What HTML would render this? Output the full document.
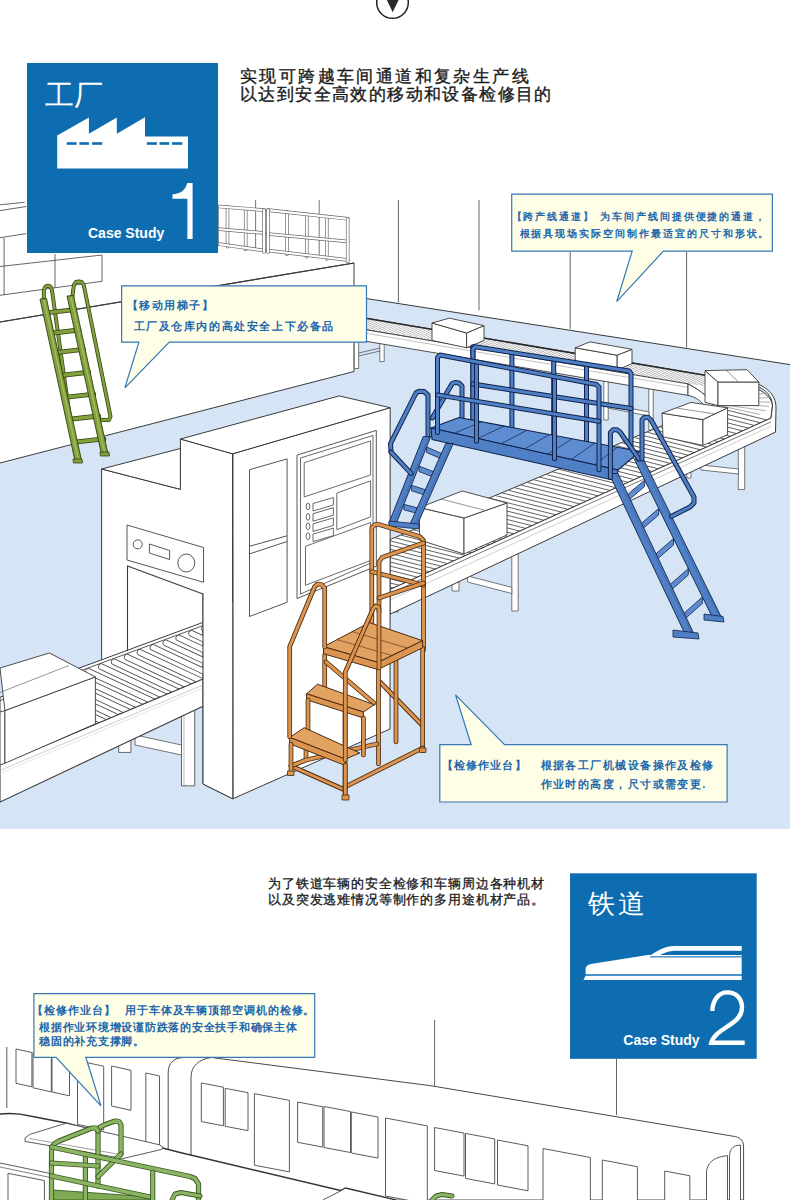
<!DOCTYPE html>
<html><head><meta charset="utf-8"><style>
html,body{margin:0;padding:0;background:#fff;width:790px;height:1200px;overflow:hidden}
svg{display:block}
text{font-family:"Liberation Sans", sans-serif}
</style></head><body>
<svg width="790" height="1200" viewBox="0 0 790 1200">
<polygon points="0,463 354,371.5 354,296.6 790,364.6 790,829 0,829" fill="#d6e5f5" stroke="none" stroke-width="1" stroke-linejoin="round" />
<line x1="354" y1="296.6" x2="790" y2="364.6" stroke="#3a3a3a" stroke-width="1" />
<line x1="398.4" y1="200" x2="398.4" y2="302.4" stroke="#555" stroke-width="0.9" />
<line x1="479" y1="200" x2="479" y2="310.5" stroke="#555" stroke-width="0.9" />
<line x1="570.2" y1="252" x2="570.2" y2="329" stroke="#555" stroke-width="0.9" />
<line x1="686.6" y1="252" x2="686.6" y2="347.5" stroke="#555" stroke-width="0.9" />
<polygon points="0,205 219,244 354,263 0,322" fill="#fff" stroke="none" stroke-width="1" stroke-linejoin="round" />
<polygon points="0,322 354,263 354,371.5 0,463" fill="#fff" stroke="none" stroke-width="1" stroke-linejoin="round" />
<polyline points="0,322 354,263 354,371.5 0,463" fill="none" stroke="#3a3a3a" stroke-width="1" stroke-linejoin="round" stroke-linecap="round" />
<line x1="0" y1="204.8" x2="24.7" y2="202.3" stroke="#555" stroke-width="0.9" />
<line x1="0" y1="210.6" x2="26.3" y2="206.5" stroke="#555" stroke-width="0.9" />
<line x1="0" y1="237.7" x2="26.3" y2="233.6" stroke="#555" stroke-width="0.9" />
<line x1="0" y1="266.5" x2="102" y2="255" stroke="#555" stroke-width="0.9" />
<line x1="0" y1="295.3" x2="102" y2="281.3" stroke="#555" stroke-width="0.9" />
<line x1="4.1" y1="238" x2="4.1" y2="295" stroke="#555" stroke-width="0.9" />
<line x1="55" y1="254" x2="55" y2="288" stroke="#555" stroke-width="0.9" />
<line x1="102" y1="255" x2="102" y2="281.3" stroke="#555" stroke-width="0.9" />
<line x1="255.6" y1="200" x2="255.6" y2="248" stroke="#666" stroke-width="0.9" />
<line x1="319.2" y1="200" x2="319.2" y2="257.7" stroke="#666" stroke-width="0.9" />
<polyline points="227.5,207.14893617021278 227.5,246.7968085106383" fill="none" stroke="#6a6a6a" stroke-width="3.6" stroke-linejoin="round" stroke-linecap="round"/>
<polyline points="227.5,207.14893617021278 227.5,246.7968085106383" fill="none" stroke="#fff" stroke-width="2.2" stroke-linejoin="round" stroke-linecap="round"/>
<polyline points="245.7,208.6204255319149 245.7,249.39127659574467" fill="none" stroke="#6a6a6a" stroke-width="3.6" stroke-linejoin="round" stroke-linecap="round"/>
<polyline points="245.7,208.6204255319149 245.7,249.39127659574467" fill="none" stroke="#fff" stroke-width="2.2" stroke-linejoin="round" stroke-linecap="round"/>
<polyline points="217,206.3 264,210.1" fill="none" stroke="#6a6a6a" stroke-width="3.6" stroke-linejoin="round" stroke-linecap="round"/>
<polyline points="217,206.3 264,210.1" fill="none" stroke="#fff" stroke-width="2.2" stroke-linejoin="round" stroke-linecap="round"/>
<polyline points="217,229 264,233" fill="none" stroke="#6a6a6a" stroke-width="3.6" stroke-linejoin="round" stroke-linecap="round"/>
<polyline points="217,229 264,233" fill="none" stroke="#fff" stroke-width="2.2" stroke-linejoin="round" stroke-linecap="round"/>
<polyline points="217,243.8 264,250.5" fill="none" stroke="#6a6a6a" stroke-width="3.6" stroke-linejoin="round" stroke-linecap="round"/>
<polyline points="217,243.8 264,250.5" fill="none" stroke="#fff" stroke-width="2.2" stroke-linejoin="round" stroke-linecap="round"/>
<polyline points="217,206.3 217,245.3" fill="none" stroke="#6a6a6a" stroke-width="3.6" stroke-linejoin="round" stroke-linecap="round"/>
<polyline points="217,206.3 217,245.3" fill="none" stroke="#fff" stroke-width="2.2" stroke-linejoin="round" stroke-linecap="round"/>
<polyline points="264,210.1 264,252" fill="none" stroke="#6a6a6a" stroke-width="3.6" stroke-linejoin="round" stroke-linecap="round"/>
<polyline points="264,210.1 264,252" fill="none" stroke="#fff" stroke-width="2.2" stroke-linejoin="round" stroke-linecap="round"/>
<polyline points="286.9,212.16311166875784 286.9,254.25282308657467" fill="none" stroke="#6a6a6a" stroke-width="3.6" stroke-linejoin="round" stroke-linecap="round"/>
<polyline points="286.9,212.16311166875784 286.9,254.25282308657467" fill="none" stroke="#fff" stroke-width="2.2" stroke-linejoin="round" stroke-linecap="round"/>
<polyline points="306.8,214.33538268506902 306.8,256.624843161857" fill="none" stroke="#6a6a6a" stroke-width="3.6" stroke-linejoin="round" stroke-linecap="round"/>
<polyline points="306.8,214.33538268506902 306.8,256.624843161857" fill="none" stroke="#fff" stroke-width="2.2" stroke-linejoin="round" stroke-linecap="round"/>
<polyline points="326.8,216.5185696361355 326.8,259.00878293601005" fill="none" stroke="#6a6a6a" stroke-width="3.6" stroke-linejoin="round" stroke-linecap="round"/>
<polyline points="326.8,216.5185696361355 326.8,259.00878293601005" fill="none" stroke="#fff" stroke-width="2.2" stroke-linejoin="round" stroke-linecap="round"/>
<polyline points="268,210.1 347.7,218.8" fill="none" stroke="#6a6a6a" stroke-width="3.6" stroke-linejoin="round" stroke-linecap="round"/>
<polyline points="268,210.1 347.7,218.8" fill="none" stroke="#fff" stroke-width="2.2" stroke-linejoin="round" stroke-linecap="round"/>
<polyline points="268,234 347.7,241.5" fill="none" stroke="#6a6a6a" stroke-width="3.6" stroke-linejoin="round" stroke-linecap="round"/>
<polyline points="268,234 347.7,241.5" fill="none" stroke="#fff" stroke-width="2.2" stroke-linejoin="round" stroke-linecap="round"/>
<polyline points="268,250.5 347.7,260.0" fill="none" stroke="#6a6a6a" stroke-width="3.6" stroke-linejoin="round" stroke-linecap="round"/>
<polyline points="268,250.5 347.7,260.0" fill="none" stroke="#fff" stroke-width="2.2" stroke-linejoin="round" stroke-linecap="round"/>
<polyline points="268,210.1 268,252" fill="none" stroke="#6a6a6a" stroke-width="3.6" stroke-linejoin="round" stroke-linecap="round"/>
<polyline points="268,210.1 268,252" fill="none" stroke="#fff" stroke-width="2.2" stroke-linejoin="round" stroke-linecap="round"/>
<polyline points="347.7,218.8 347.7,261.5" fill="none" stroke="#6a6a6a" stroke-width="3.6" stroke-linejoin="round" stroke-linecap="round"/>
<polyline points="347.7,218.8 347.7,261.5" fill="none" stroke="#fff" stroke-width="2.2" stroke-linejoin="round" stroke-linecap="round"/>
<line x1="0" y1="322" x2="354" y2="263" stroke="#3a3a3a" stroke-width="1.1" />
<polygon points="354.3,334.67 358.7,334.67 358.7,368.5 354.3,368.5" fill="#fff" stroke="#555" stroke-width="0.8" stroke-linejoin="round" />
<polygon points="379.8,338.95 384.2,338.95 384.2,361.6 379.8,361.6" fill="#fff" stroke="#555" stroke-width="0.8" stroke-linejoin="round" />
<polygon points="648.8,384.15 653.2,384.15 653.2,430 648.8,430" fill="#fff" stroke="#555" stroke-width="0.8" stroke-linejoin="round" />
<polygon points="603.8,376.59 608.2,376.59 608.2,420 603.8,420" fill="#fff" stroke="#555" stroke-width="0.8" stroke-linejoin="round" />
<line x1="358.7" y1="356" x2="380" y2="351" stroke="#555" stroke-width="0.8" />
<line x1="358.7" y1="353" x2="380" y2="348" stroke="#555" stroke-width="0.8" />
<polygon points="608,404 649,412 649,416 608,408" fill="#fff" stroke="#555" stroke-width="0.8" stroke-linejoin="round" />
<path d="M354,316.2 L705,375.2 C740,379.2 772,390 772.5,406 L771,418.1 L390,589.5 L390,539.6 L712.5,404.5 C709,398 703,392 688,383.9 L354,327.7 Z" fill="#fff" stroke="#3a3a3a" stroke-width="1"/>
<clipPath id="bcclip"><path d="M354,316.9 L705,375.9 L705,386.4 L354,327.4 Z"/></clipPath><g clip-path="url(#bcclip)">
<line x1="358.0" y1="316.9" x2="340.0" y2="325.4" stroke="#a8a8a8" stroke-width="2.4"/>
<line x1="358.0" y1="316.9" x2="340.0" y2="325.4" stroke="#fff" stroke-width="1.1"/>
<line x1="364.0" y1="317.9" x2="346.0" y2="326.4" stroke="#a8a8a8" stroke-width="2.4"/>
<line x1="364.0" y1="317.9" x2="346.0" y2="326.4" stroke="#fff" stroke-width="1.1"/>
<line x1="370.0" y1="318.9" x2="352.0" y2="327.4" stroke="#a8a8a8" stroke-width="2.4"/>
<line x1="370.0" y1="318.9" x2="352.0" y2="327.4" stroke="#fff" stroke-width="1.1"/>
<line x1="376.0" y1="319.9" x2="358.0" y2="328.4" stroke="#a8a8a8" stroke-width="2.4"/>
<line x1="376.0" y1="319.9" x2="358.0" y2="328.4" stroke="#fff" stroke-width="1.1"/>
<line x1="382.0" y1="321.0" x2="364.0" y2="329.4" stroke="#a8a8a8" stroke-width="2.4"/>
<line x1="382.0" y1="321.0" x2="364.0" y2="329.4" stroke="#fff" stroke-width="1.1"/>
<line x1="388.0" y1="322.0" x2="370.0" y2="330.4" stroke="#a8a8a8" stroke-width="2.4"/>
<line x1="388.0" y1="322.0" x2="370.0" y2="330.4" stroke="#fff" stroke-width="1.1"/>
<line x1="394.0" y1="323.0" x2="376.0" y2="331.4" stroke="#a8a8a8" stroke-width="2.4"/>
<line x1="394.0" y1="323.0" x2="376.0" y2="331.4" stroke="#fff" stroke-width="1.1"/>
<line x1="400.0" y1="324.0" x2="382.0" y2="332.5" stroke="#a8a8a8" stroke-width="2.4"/>
<line x1="400.0" y1="324.0" x2="382.0" y2="332.5" stroke="#fff" stroke-width="1.1"/>
<line x1="406.0" y1="325.0" x2="388.0" y2="333.5" stroke="#a8a8a8" stroke-width="2.4"/>
<line x1="406.0" y1="325.0" x2="388.0" y2="333.5" stroke="#fff" stroke-width="1.1"/>
<line x1="412.0" y1="326.0" x2="394.0" y2="334.5" stroke="#a8a8a8" stroke-width="2.4"/>
<line x1="412.0" y1="326.0" x2="394.0" y2="334.5" stroke="#fff" stroke-width="1.1"/>
<line x1="418.0" y1="327.0" x2="400.0" y2="335.5" stroke="#a8a8a8" stroke-width="2.4"/>
<line x1="418.0" y1="327.0" x2="400.0" y2="335.5" stroke="#fff" stroke-width="1.1"/>
<line x1="424.0" y1="328.0" x2="406.0" y2="336.5" stroke="#a8a8a8" stroke-width="2.4"/>
<line x1="424.0" y1="328.0" x2="406.0" y2="336.5" stroke="#fff" stroke-width="1.1"/>
<line x1="430.0" y1="329.0" x2="412.0" y2="337.5" stroke="#a8a8a8" stroke-width="2.4"/>
<line x1="430.0" y1="329.0" x2="412.0" y2="337.5" stroke="#fff" stroke-width="1.1"/>
<line x1="436.0" y1="330.0" x2="418.0" y2="338.5" stroke="#a8a8a8" stroke-width="2.4"/>
<line x1="436.0" y1="330.0" x2="418.0" y2="338.5" stroke="#fff" stroke-width="1.1"/>
<line x1="442.0" y1="331.0" x2="424.0" y2="339.5" stroke="#a8a8a8" stroke-width="2.4"/>
<line x1="442.0" y1="331.0" x2="424.0" y2="339.5" stroke="#fff" stroke-width="1.1"/>
<line x1="448.0" y1="332.0" x2="430.0" y2="340.5" stroke="#a8a8a8" stroke-width="2.4"/>
<line x1="448.0" y1="332.0" x2="430.0" y2="340.5" stroke="#fff" stroke-width="1.1"/>
<line x1="454.0" y1="333.0" x2="436.0" y2="341.5" stroke="#a8a8a8" stroke-width="2.4"/>
<line x1="454.0" y1="333.0" x2="436.0" y2="341.5" stroke="#fff" stroke-width="1.1"/>
<line x1="460.0" y1="334.1" x2="442.0" y2="342.5" stroke="#a8a8a8" stroke-width="2.4"/>
<line x1="460.0" y1="334.1" x2="442.0" y2="342.5" stroke="#fff" stroke-width="1.1"/>
<line x1="466.0" y1="335.1" x2="448.0" y2="343.5" stroke="#a8a8a8" stroke-width="2.4"/>
<line x1="466.0" y1="335.1" x2="448.0" y2="343.5" stroke="#fff" stroke-width="1.1"/>
<line x1="472.0" y1="336.1" x2="454.0" y2="344.5" stroke="#a8a8a8" stroke-width="2.4"/>
<line x1="472.0" y1="336.1" x2="454.0" y2="344.5" stroke="#fff" stroke-width="1.1"/>
<line x1="478.0" y1="337.1" x2="460.0" y2="345.6" stroke="#a8a8a8" stroke-width="2.4"/>
<line x1="478.0" y1="337.1" x2="460.0" y2="345.6" stroke="#fff" stroke-width="1.1"/>
<line x1="484.0" y1="338.1" x2="466.0" y2="346.6" stroke="#a8a8a8" stroke-width="2.4"/>
<line x1="484.0" y1="338.1" x2="466.0" y2="346.6" stroke="#fff" stroke-width="1.1"/>
<line x1="490.0" y1="339.1" x2="472.0" y2="347.6" stroke="#a8a8a8" stroke-width="2.4"/>
<line x1="490.0" y1="339.1" x2="472.0" y2="347.6" stroke="#fff" stroke-width="1.1"/>
<line x1="496.0" y1="340.1" x2="478.0" y2="348.6" stroke="#a8a8a8" stroke-width="2.4"/>
<line x1="496.0" y1="340.1" x2="478.0" y2="348.6" stroke="#fff" stroke-width="1.1"/>
<line x1="502.0" y1="341.1" x2="484.0" y2="349.6" stroke="#a8a8a8" stroke-width="2.4"/>
<line x1="502.0" y1="341.1" x2="484.0" y2="349.6" stroke="#fff" stroke-width="1.1"/>
<line x1="508.0" y1="342.1" x2="490.0" y2="350.6" stroke="#a8a8a8" stroke-width="2.4"/>
<line x1="508.0" y1="342.1" x2="490.0" y2="350.6" stroke="#fff" stroke-width="1.1"/>
<line x1="514.0" y1="343.1" x2="496.0" y2="351.6" stroke="#a8a8a8" stroke-width="2.4"/>
<line x1="514.0" y1="343.1" x2="496.0" y2="351.6" stroke="#fff" stroke-width="1.1"/>
<line x1="520.0" y1="344.1" x2="502.0" y2="352.6" stroke="#a8a8a8" stroke-width="2.4"/>
<line x1="520.0" y1="344.1" x2="502.0" y2="352.6" stroke="#fff" stroke-width="1.1"/>
<line x1="526.0" y1="345.1" x2="508.0" y2="353.6" stroke="#a8a8a8" stroke-width="2.4"/>
<line x1="526.0" y1="345.1" x2="508.0" y2="353.6" stroke="#fff" stroke-width="1.1"/>
<line x1="532.0" y1="346.2" x2="514.0" y2="354.6" stroke="#a8a8a8" stroke-width="2.4"/>
<line x1="532.0" y1="346.2" x2="514.0" y2="354.6" stroke="#fff" stroke-width="1.1"/>
<line x1="538.0" y1="347.2" x2="520.0" y2="355.6" stroke="#a8a8a8" stroke-width="2.4"/>
<line x1="538.0" y1="347.2" x2="520.0" y2="355.6" stroke="#fff" stroke-width="1.1"/>
<line x1="544.0" y1="348.2" x2="526.0" y2="356.6" stroke="#a8a8a8" stroke-width="2.4"/>
<line x1="544.0" y1="348.2" x2="526.0" y2="356.6" stroke="#fff" stroke-width="1.1"/>
<line x1="550.0" y1="349.2" x2="532.0" y2="357.7" stroke="#a8a8a8" stroke-width="2.4"/>
<line x1="550.0" y1="349.2" x2="532.0" y2="357.7" stroke="#fff" stroke-width="1.1"/>
<line x1="556.0" y1="350.2" x2="538.0" y2="358.7" stroke="#a8a8a8" stroke-width="2.4"/>
<line x1="556.0" y1="350.2" x2="538.0" y2="358.7" stroke="#fff" stroke-width="1.1"/>
<line x1="562.0" y1="351.2" x2="544.0" y2="359.7" stroke="#a8a8a8" stroke-width="2.4"/>
<line x1="562.0" y1="351.2" x2="544.0" y2="359.7" stroke="#fff" stroke-width="1.1"/>
<line x1="568.0" y1="352.2" x2="550.0" y2="360.7" stroke="#a8a8a8" stroke-width="2.4"/>
<line x1="568.0" y1="352.2" x2="550.0" y2="360.7" stroke="#fff" stroke-width="1.1"/>
<line x1="574.0" y1="353.2" x2="556.0" y2="361.7" stroke="#a8a8a8" stroke-width="2.4"/>
<line x1="574.0" y1="353.2" x2="556.0" y2="361.7" stroke="#fff" stroke-width="1.1"/>
<line x1="580.0" y1="354.2" x2="562.0" y2="362.7" stroke="#a8a8a8" stroke-width="2.4"/>
<line x1="580.0" y1="354.2" x2="562.0" y2="362.7" stroke="#fff" stroke-width="1.1"/>
<line x1="586.0" y1="355.2" x2="568.0" y2="363.7" stroke="#a8a8a8" stroke-width="2.4"/>
<line x1="586.0" y1="355.2" x2="568.0" y2="363.7" stroke="#fff" stroke-width="1.1"/>
<line x1="592.0" y1="356.2" x2="574.0" y2="364.7" stroke="#a8a8a8" stroke-width="2.4"/>
<line x1="592.0" y1="356.2" x2="574.0" y2="364.7" stroke="#fff" stroke-width="1.1"/>
<line x1="598.0" y1="357.2" x2="580.0" y2="365.7" stroke="#a8a8a8" stroke-width="2.4"/>
<line x1="598.0" y1="357.2" x2="580.0" y2="365.7" stroke="#fff" stroke-width="1.1"/>
<line x1="604.0" y1="358.2" x2="586.0" y2="366.7" stroke="#a8a8a8" stroke-width="2.4"/>
<line x1="604.0" y1="358.2" x2="586.0" y2="366.7" stroke="#fff" stroke-width="1.1"/>
<line x1="610.0" y1="359.3" x2="592.0" y2="367.7" stroke="#a8a8a8" stroke-width="2.4"/>
<line x1="610.0" y1="359.3" x2="592.0" y2="367.7" stroke="#fff" stroke-width="1.1"/>
<line x1="616.0" y1="360.3" x2="598.0" y2="368.7" stroke="#a8a8a8" stroke-width="2.4"/>
<line x1="616.0" y1="360.3" x2="598.0" y2="368.7" stroke="#fff" stroke-width="1.1"/>
<line x1="622.0" y1="361.3" x2="604.0" y2="369.7" stroke="#a8a8a8" stroke-width="2.4"/>
<line x1="622.0" y1="361.3" x2="604.0" y2="369.7" stroke="#fff" stroke-width="1.1"/>
<line x1="628.0" y1="362.3" x2="610.0" y2="370.8" stroke="#a8a8a8" stroke-width="2.4"/>
<line x1="628.0" y1="362.3" x2="610.0" y2="370.8" stroke="#fff" stroke-width="1.1"/>
<line x1="634.0" y1="363.3" x2="616.0" y2="371.8" stroke="#a8a8a8" stroke-width="2.4"/>
<line x1="634.0" y1="363.3" x2="616.0" y2="371.8" stroke="#fff" stroke-width="1.1"/>
<line x1="640.0" y1="364.3" x2="622.0" y2="372.8" stroke="#a8a8a8" stroke-width="2.4"/>
<line x1="640.0" y1="364.3" x2="622.0" y2="372.8" stroke="#fff" stroke-width="1.1"/>
<line x1="646.0" y1="365.3" x2="628.0" y2="373.8" stroke="#a8a8a8" stroke-width="2.4"/>
<line x1="646.0" y1="365.3" x2="628.0" y2="373.8" stroke="#fff" stroke-width="1.1"/>
<line x1="652.0" y1="366.3" x2="634.0" y2="374.8" stroke="#a8a8a8" stroke-width="2.4"/>
<line x1="652.0" y1="366.3" x2="634.0" y2="374.8" stroke="#fff" stroke-width="1.1"/>
<line x1="658.0" y1="367.3" x2="640.0" y2="375.8" stroke="#a8a8a8" stroke-width="2.4"/>
<line x1="658.0" y1="367.3" x2="640.0" y2="375.8" stroke="#fff" stroke-width="1.1"/>
<line x1="664.0" y1="368.3" x2="646.0" y2="376.8" stroke="#a8a8a8" stroke-width="2.4"/>
<line x1="664.0" y1="368.3" x2="646.0" y2="376.8" stroke="#fff" stroke-width="1.1"/>
<line x1="670.0" y1="369.3" x2="652.0" y2="377.8" stroke="#a8a8a8" stroke-width="2.4"/>
<line x1="670.0" y1="369.3" x2="652.0" y2="377.8" stroke="#fff" stroke-width="1.1"/>
<line x1="676.0" y1="370.3" x2="658.0" y2="378.8" stroke="#a8a8a8" stroke-width="2.4"/>
<line x1="676.0" y1="370.3" x2="658.0" y2="378.8" stroke="#fff" stroke-width="1.1"/>
<line x1="682.0" y1="371.4" x2="664.0" y2="379.8" stroke="#a8a8a8" stroke-width="2.4"/>
<line x1="682.0" y1="371.4" x2="664.0" y2="379.8" stroke="#fff" stroke-width="1.1"/>
<line x1="688.0" y1="372.4" x2="670.0" y2="380.8" stroke="#a8a8a8" stroke-width="2.4"/>
<line x1="688.0" y1="372.4" x2="670.0" y2="380.8" stroke="#fff" stroke-width="1.1"/>
<line x1="694.0" y1="373.4" x2="676.0" y2="381.8" stroke="#a8a8a8" stroke-width="2.4"/>
<line x1="694.0" y1="373.4" x2="676.0" y2="381.8" stroke="#fff" stroke-width="1.1"/>
<line x1="700.0" y1="374.4" x2="682.0" y2="382.9" stroke="#a8a8a8" stroke-width="2.4"/>
<line x1="700.0" y1="374.4" x2="682.0" y2="382.9" stroke="#fff" stroke-width="1.1"/>
<line x1="706.0" y1="375.4" x2="688.0" y2="383.9" stroke="#a8a8a8" stroke-width="2.4"/>
<line x1="706.0" y1="375.4" x2="688.0" y2="383.9" stroke="#fff" stroke-width="1.1"/>
<line x1="712.0" y1="376.4" x2="694.0" y2="384.9" stroke="#a8a8a8" stroke-width="2.4"/>
<line x1="712.0" y1="376.4" x2="694.0" y2="384.9" stroke="#fff" stroke-width="1.1"/>
<line x1="718.0" y1="377.4" x2="700.0" y2="385.9" stroke="#a8a8a8" stroke-width="2.4"/>
<line x1="718.0" y1="377.4" x2="700.0" y2="385.9" stroke="#fff" stroke-width="1.1"/>
<line x1="724.0" y1="378.4" x2="706.0" y2="386.9" stroke="#a8a8a8" stroke-width="2.4"/>
<line x1="724.0" y1="378.4" x2="706.0" y2="386.9" stroke="#fff" stroke-width="1.1"/>
</g>
<line x1="354" y1="316.2496" x2="705" y2="375.21759999999995" stroke="#2a2a2a" stroke-width="1.6" />
<clipPath id="lfsclip"><path d="M390,540.3 L712.5,405.2 L771,418.1 L390,589.5 Z"/></clipPath><g clip-path="url(#lfsclip)">
<line x1="300.0" y1="577.3" x2="375.3" y2="596.1" stroke="#5a5a5a" stroke-width="0.95"/>
<line x1="306.3" y1="574.7" x2="381.4" y2="593.4" stroke="#5a5a5a" stroke-width="0.95"/>
<line x1="312.6" y1="572.0" x2="387.4" y2="590.7" stroke="#5a5a5a" stroke-width="0.95"/>
<line x1="318.9" y1="569.4" x2="393.4" y2="588.0" stroke="#5a5a5a" stroke-width="0.95"/>
<line x1="325.2" y1="566.8" x2="399.4" y2="585.3" stroke="#5a5a5a" stroke-width="0.95"/>
<line x1="331.5" y1="564.1" x2="405.4" y2="582.6" stroke="#5a5a5a" stroke-width="0.95"/>
<line x1="337.8" y1="561.5" x2="411.5" y2="579.9" stroke="#5a5a5a" stroke-width="0.95"/>
<line x1="344.1" y1="558.8" x2="417.5" y2="577.2" stroke="#5a5a5a" stroke-width="0.95"/>
<line x1="350.4" y1="556.2" x2="423.5" y2="574.5" stroke="#5a5a5a" stroke-width="0.95"/>
<line x1="356.7" y1="553.6" x2="429.5" y2="571.8" stroke="#5a5a5a" stroke-width="0.95"/>
<line x1="363.0" y1="550.9" x2="435.6" y2="569.1" stroke="#5a5a5a" stroke-width="0.95"/>
<line x1="369.3" y1="548.3" x2="441.6" y2="566.3" stroke="#5a5a5a" stroke-width="0.95"/>
<line x1="375.6" y1="545.6" x2="447.6" y2="563.6" stroke="#5a5a5a" stroke-width="0.95"/>
<line x1="381.9" y1="543.0" x2="453.6" y2="560.9" stroke="#5a5a5a" stroke-width="0.95"/>
<line x1="388.2" y1="540.4" x2="459.6" y2="558.2" stroke="#5a5a5a" stroke-width="0.95"/>
<line x1="394.5" y1="537.7" x2="465.7" y2="555.5" stroke="#5a5a5a" stroke-width="0.95"/>
<line x1="400.8" y1="535.1" x2="471.7" y2="552.8" stroke="#5a5a5a" stroke-width="0.95"/>
<line x1="407.1" y1="532.4" x2="477.7" y2="550.1" stroke="#5a5a5a" stroke-width="0.95"/>
<line x1="413.4" y1="529.8" x2="483.7" y2="547.4" stroke="#5a5a5a" stroke-width="0.95"/>
<line x1="419.7" y1="527.2" x2="489.8" y2="544.7" stroke="#5a5a5a" stroke-width="0.95"/>
<line x1="426.0" y1="524.5" x2="495.8" y2="542.0" stroke="#5a5a5a" stroke-width="0.95"/>
<line x1="432.3" y1="521.9" x2="501.8" y2="539.3" stroke="#5a5a5a" stroke-width="0.95"/>
<line x1="438.6" y1="519.2" x2="507.8" y2="536.5" stroke="#5a5a5a" stroke-width="0.95"/>
<line x1="444.9" y1="516.6" x2="513.8" y2="533.8" stroke="#5a5a5a" stroke-width="0.95"/>
<line x1="451.2" y1="514.0" x2="519.9" y2="531.1" stroke="#5a5a5a" stroke-width="0.95"/>
<line x1="457.5" y1="511.3" x2="525.9" y2="528.4" stroke="#5a5a5a" stroke-width="0.95"/>
<line x1="463.8" y1="508.7" x2="531.9" y2="525.7" stroke="#5a5a5a" stroke-width="0.95"/>
<line x1="470.1" y1="506.0" x2="537.9" y2="523.0" stroke="#5a5a5a" stroke-width="0.95"/>
<line x1="476.4" y1="503.4" x2="544.0" y2="520.3" stroke="#5a5a5a" stroke-width="0.95"/>
<line x1="482.7" y1="500.8" x2="550.0" y2="517.6" stroke="#5a5a5a" stroke-width="0.95"/>
<line x1="489.0" y1="498.1" x2="556.0" y2="514.9" stroke="#5a5a5a" stroke-width="0.95"/>
<line x1="495.3" y1="495.5" x2="562.0" y2="512.2" stroke="#5a5a5a" stroke-width="0.95"/>
<line x1="501.6" y1="492.8" x2="568.0" y2="509.4" stroke="#5a5a5a" stroke-width="0.95"/>
<line x1="507.9" y1="490.2" x2="574.1" y2="506.7" stroke="#5a5a5a" stroke-width="0.95"/>
<line x1="514.2" y1="487.6" x2="580.1" y2="504.0" stroke="#5a5a5a" stroke-width="0.95"/>
<line x1="520.5" y1="484.9" x2="586.1" y2="501.3" stroke="#5a5a5a" stroke-width="0.95"/>
<line x1="526.8" y1="482.3" x2="592.1" y2="498.6" stroke="#5a5a5a" stroke-width="0.95"/>
<line x1="533.1" y1="479.6" x2="598.1" y2="495.9" stroke="#5a5a5a" stroke-width="0.95"/>
<line x1="539.4" y1="477.0" x2="604.2" y2="493.2" stroke="#5a5a5a" stroke-width="0.95"/>
<line x1="545.7" y1="474.4" x2="610.2" y2="490.5" stroke="#5a5a5a" stroke-width="0.95"/>
<line x1="552.0" y1="471.7" x2="616.2" y2="487.8" stroke="#5a5a5a" stroke-width="0.95"/>
<line x1="558.3" y1="469.1" x2="622.2" y2="485.1" stroke="#5a5a5a" stroke-width="0.95"/>
<line x1="564.6" y1="466.4" x2="628.3" y2="482.4" stroke="#5a5a5a" stroke-width="0.95"/>
<line x1="570.9" y1="463.8" x2="634.3" y2="479.6" stroke="#5a5a5a" stroke-width="0.95"/>
<line x1="577.2" y1="461.2" x2="640.3" y2="476.9" stroke="#5a5a5a" stroke-width="0.95"/>
<line x1="583.5" y1="458.5" x2="646.3" y2="474.2" stroke="#5a5a5a" stroke-width="0.95"/>
<line x1="589.8" y1="455.9" x2="652.3" y2="471.5" stroke="#5a5a5a" stroke-width="0.95"/>
<line x1="596.1" y1="453.2" x2="658.4" y2="468.8" stroke="#5a5a5a" stroke-width="0.95"/>
<line x1="602.4" y1="450.6" x2="664.4" y2="466.1" stroke="#5a5a5a" stroke-width="0.95"/>
<line x1="608.7" y1="448.0" x2="670.4" y2="463.4" stroke="#5a5a5a" stroke-width="0.95"/>
<line x1="615.0" y1="445.3" x2="676.4" y2="460.7" stroke="#5a5a5a" stroke-width="0.95"/>
<line x1="621.3" y1="442.7" x2="682.5" y2="458.0" stroke="#5a5a5a" stroke-width="0.95"/>
<line x1="627.6" y1="440.0" x2="688.5" y2="455.3" stroke="#5a5a5a" stroke-width="0.95"/>
<line x1="633.9" y1="437.4" x2="694.5" y2="452.6" stroke="#5a5a5a" stroke-width="0.95"/>
<line x1="640.2" y1="434.8" x2="700.5" y2="449.8" stroke="#5a5a5a" stroke-width="0.95"/>
<line x1="646.5" y1="432.1" x2="706.5" y2="447.1" stroke="#5a5a5a" stroke-width="0.95"/>
<line x1="652.8" y1="429.5" x2="712.6" y2="444.4" stroke="#5a5a5a" stroke-width="0.95"/>
<line x1="659.1" y1="426.8" x2="718.6" y2="441.7" stroke="#5a5a5a" stroke-width="0.95"/>
<line x1="665.4" y1="424.2" x2="724.6" y2="439.0" stroke="#5a5a5a" stroke-width="0.95"/>
<line x1="671.7" y1="421.6" x2="730.6" y2="436.3" stroke="#5a5a5a" stroke-width="0.95"/>
<line x1="678.0" y1="418.9" x2="736.7" y2="433.6" stroke="#5a5a5a" stroke-width="0.95"/>
<line x1="684.3" y1="416.3" x2="742.7" y2="430.9" stroke="#5a5a5a" stroke-width="0.95"/>
<line x1="690.6" y1="413.6" x2="748.7" y2="428.2" stroke="#5a5a5a" stroke-width="0.95"/>
<line x1="696.9" y1="411.0" x2="754.7" y2="425.5" stroke="#5a5a5a" stroke-width="0.95"/>
<line x1="703.2" y1="408.4" x2="760.7" y2="422.8" stroke="#5a5a5a" stroke-width="0.95"/>
<line x1="709.5" y1="405.7" x2="766.8" y2="420.0" stroke="#5a5a5a" stroke-width="0.95"/>
<line x1="715.8" y1="403.1" x2="772.8" y2="417.3" stroke="#5a5a5a" stroke-width="0.95"/>
<line x1="722.1" y1="400.5" x2="778.8" y2="414.6" stroke="#5a5a5a" stroke-width="0.95"/>
<line x1="728.4" y1="397.8" x2="784.8" y2="411.9" stroke="#5a5a5a" stroke-width="0.95"/>
<line x1="734.7" y1="395.2" x2="790.8" y2="409.2" stroke="#5a5a5a" stroke-width="0.95"/>
<line x1="741.0" y1="392.5" x2="796.9" y2="406.5" stroke="#5a5a5a" stroke-width="0.95"/>
<line x1="747.3" y1="389.9" x2="802.9" y2="403.8" stroke="#5a5a5a" stroke-width="0.95"/>
<line x1="753.6" y1="387.3" x2="808.9" y2="401.1" stroke="#5a5a5a" stroke-width="0.95"/>
<line x1="759.9" y1="384.6" x2="814.9" y2="398.4" stroke="#5a5a5a" stroke-width="0.95"/>
<line x1="766.2" y1="382.0" x2="821.0" y2="395.7" stroke="#5a5a5a" stroke-width="0.95"/>
</g>
<line x1="714.9" y1="396.4" x2="733.0" y2="381.5" stroke="#8a8a8a" stroke-width="0.7" />
<line x1="716.3" y1="397.0" x2="743.3" y2="383.5" stroke="#8a8a8a" stroke-width="0.7" />
<line x1="717.6" y1="397.7" x2="752.4" y2="386.2" stroke="#8a8a8a" stroke-width="0.7" />
<line x1="718.6" y1="398.6" x2="759.9" y2="389.6" stroke="#8a8a8a" stroke-width="0.7" />
<line x1="719.4" y1="399.7" x2="765.4" y2="393.4" stroke="#8a8a8a" stroke-width="0.7" />
<line x1="719.8" y1="400.8" x2="768.8" y2="397.6" stroke="#8a8a8a" stroke-width="0.7" />
<line x1="720.0" y1="402.0" x2="770.0" y2="402.0" stroke="#8a8a8a" stroke-width="0.7" />
<line x1="719.8" y1="403.2" x2="768.8" y2="406.4" stroke="#8a8a8a" stroke-width="0.7" />
<line x1="719.4" y1="404.3" x2="765.4" y2="410.6" stroke="#8a8a8a" stroke-width="0.7" />
<line x1="718.6" y1="405.4" x2="759.9" y2="414.4" stroke="#8a8a8a" stroke-width="0.7" />
<polygon points="354,327.75 688,383.86 688,395.36 354,339.25" fill="#fff" stroke="#3a3a3a" stroke-width="0.9" stroke-linejoin="round" />
<line x1="354" y1="331.2496" x2="688" y2="387.36159999999995" stroke="#999" stroke-width="0.6" />
<path d="M688,383.9 C703,392 709,398 712.5,404.5 L712.5,413.5 C706,408 700,397.4 688,395.4 Z" fill="#fff" stroke="#3a3a3a" stroke-width="0.9"/>
<polygon points="738.3,446.18 744.7,446.18 744.7,489.6 738.3,489.6" fill="#fff" stroke="#555" stroke-width="0.8" stroke-linejoin="round" />
<polygon points="511.8,553.16 518.2,553.16 518.2,611 511.8,611" fill="#fff" stroke="#555" stroke-width="0.8" stroke-linejoin="round" />
<polygon points="391.8,609.83 398.2,609.83 398.2,612 391.8,612" fill="#fff" stroke="#555" stroke-width="0.8" stroke-linejoin="round" />
<polygon points="701,465 738.5,469 738.5,474 701,470" fill="#fff" stroke="#555" stroke-width="0.8" stroke-linejoin="round" />
<polygon points="686.8,472 691,472 691,478 686.8,478" fill="#fff" stroke="#555" stroke-width="0.8" stroke-linejoin="round" />
<polygon points="467.6,576 511.8,587.3 511.8,593.5 467.6,582" fill="#fff" stroke="#555" stroke-width="0.8" stroke-linejoin="round" />
<polygon points="452,583 459,582 459,591 452,591" fill="#fff" stroke="#555" stroke-width="0.8" stroke-linejoin="round" />
<path d="M390,589.5 L771,418.1 L772.5,406 C772,392 760,386 745,382 L750,381 C766,386 776,394 776,408 L775.5,432.1 L390,614.2 Z" fill="#fff" stroke="#3a3a3a" stroke-width="1"/>
<line x1="390" y1="593.3489999999999" x2="771" y2="421.9371" stroke="#555" stroke-width="0.8" />
<line x1="390" y1="600.049" x2="771" y2="426.1371" stroke="#b0b0b0" stroke-width="0.6" />
<polygon points="432,323 466.6,333 466.6,347.8 432,340.4" fill="#fff" stroke="#3a3a3a" stroke-width="0.9" stroke-linejoin="round" />
<polygon points="466.6,333 484,325.6 484,340.4 466.6,347.8" fill="#fff" stroke="#3a3a3a" stroke-width="0.9" stroke-linejoin="round" />
<polygon points="432,323 449.4,318.2 484,325.6 466.6,333" fill="#fff" stroke="#3a3a3a" stroke-width="0.9" stroke-linejoin="round" />
<polygon points="575.2,347.8 617.2,355.2 617.2,370 575.2,362.6" fill="#fff" stroke="#3a3a3a" stroke-width="0.9" stroke-linejoin="round" />
<polygon points="617.2,355.2 632,349.3 632,363.6 617.2,370" fill="#fff" stroke="#3a3a3a" stroke-width="0.9" stroke-linejoin="round" />
<polygon points="575.2,347.8 590,341.9 632,349.3 617.2,355.2" fill="#fff" stroke="#3a3a3a" stroke-width="0.9" stroke-linejoin="round" />
<polygon points="705,370.6 718,382 718,405.6 705,402.4" fill="#fff" stroke="#3a3a3a" stroke-width="0.9" stroke-linejoin="round" />
<polygon points="718,382 758.8,382 758.8,405.6 718,405.6" fill="#fff" stroke="#3a3a3a" stroke-width="0.9" stroke-linejoin="round" />
<polygon points="705,370.6 747,369.7 758.8,382 718,382" fill="#fff" stroke="#3a3a3a" stroke-width="0.9" stroke-linejoin="round" />
<line x1="726" y1="370" x2="738.5" y2="382" stroke="#666" stroke-width="0.7" />
<polygon points="662,413.2 702.9,419.6 702.9,445.4 663,436.8" fill="#fff" stroke="#3a3a3a" stroke-width="0.9" stroke-linejoin="round" />
<polygon points="702.9,419.6 727.6,407.8 727.6,434.7 702.9,445.4" fill="#fff" stroke="#3a3a3a" stroke-width="0.9" stroke-linejoin="round" />
<polygon points="662,413.2 691,402.4 727.6,407.8 702.9,419.6" fill="#fff" stroke="#3a3a3a" stroke-width="0.9" stroke-linejoin="round" />
<line x1="676.5" y1="408" x2="715" y2="414" stroke="#666" stroke-width="0.7" />
<polygon points="419.5,507.5 464,518 464,554 419.5,540" fill="#fff" stroke="#3a3a3a" stroke-width="0.9" stroke-linejoin="round" />
<polygon points="464,518 507,503 507,535 464,554" fill="#fff" stroke="#3a3a3a" stroke-width="0.9" stroke-linejoin="round" />
<polygon points="419.5,507.5 462.3,491 507,503 464,518" fill="#fff" stroke="#3a3a3a" stroke-width="0.9" stroke-linejoin="round" />
<line x1="441" y1="499" x2="485.5" y2="510.5" stroke="#666" stroke-width="0.7" />
<polygon points="232.6,453.8 390.2,407.7 390,729 232.8,798.8" fill="#fff" stroke="#3a3a3a" stroke-width="1" stroke-linejoin="round" />
<polygon points="101.6,469 180.4,489.3 180.4,439 232.6,453.8 232.8,798.8 203,784 203,700 101.6,700" fill="#fff" stroke="#3a3a3a" stroke-width="1" stroke-linejoin="round" />
<polygon points="180.4,439 339.2,395.9 390.2,407.7 232.6,453.8" fill="#fff" stroke="#3a3a3a" stroke-width="1" stroke-linejoin="round" />
<polygon points="101.6,469 180.4,448.5 180.4,489.3" fill="#fff" stroke="#3a3a3a" stroke-width="1" stroke-linejoin="round" />
<polygon points="127.5,565.9 203,594 203,690 127.5,690" fill="#fff" stroke="#3a3a3a" stroke-width="1.1" stroke-linejoin="round" />
<polygon points="127,525 203.5,547.5 203.5,582.3 127,560" fill="#fff" stroke="#444" stroke-width="0.9" stroke-linejoin="round" />
<circle cx="137.7" cy="544.3" r="4.5" fill="#fff" stroke="#444" stroke-width="0.9"/>
<polygon points="149.4,544 169.6,550.5 169.6,559.5 149.4,553" fill="#fff" stroke="#444" stroke-width="0.9" stroke-linejoin="round" />
<ellipse cx="186.3" cy="563" rx="8.5" ry="9" fill="#fff" stroke="#444" stroke-width="0.9"/>
<polygon points="249.5,469.7 287.1,458.9 287.1,602.3 249.5,616.5" fill="#fff" stroke="#444" stroke-width="0.9" stroke-linejoin="round" />
<line x1="249.5" y1="546.3" x2="287.1" y2="535.8" stroke="#444" stroke-width="0.9" />
<line x1="249.5" y1="553.9" x2="287.1" y2="541.5" stroke="#444" stroke-width="0.9" />
<polygon points="297,455.1 376.3,430.4 376.3,566.2 297,598.5" fill="#fff" stroke="#444" stroke-width="0.9" stroke-linejoin="round" />
<polygon points="300.5,458 373,435.5 373,562 300.5,594" fill="#fff" stroke="#444" stroke-width="0.8" stroke-linejoin="round" />
<polygon points="304.2,462.7 370.6,440.9 370.6,475 304.2,496.9" fill="#fff" stroke="#444" stroke-width="0.8" stroke-linejoin="round" />
<polygon points="336.8,493.1 370.6,480.8 370.6,516.8 336.8,529.7" fill="#fff" stroke="#444" stroke-width="0.8" stroke-linejoin="round" />
<polygon points="305.5,546.3 370.6,522.5 370.6,560.5 305.5,585.2" fill="#fff" stroke="#444" stroke-width="0.8" stroke-linejoin="round" />
<ellipse cx="308" cy="506.4" rx="1.9" ry="3.4" fill="#fff" stroke="#444" stroke-width="0.8"/>
<polygon points="313,503.5 333.4,497.5 333.4,505.0 313,511.0" fill="#fff" stroke="#444" stroke-width="0.8" stroke-linejoin="round" />
<ellipse cx="308" cy="516.8" rx="1.9" ry="3.4" fill="#fff" stroke="#444" stroke-width="0.8"/>
<polygon points="313,513.7 333.4,507.7 333.4,515.2 313,521.2" fill="#fff" stroke="#444" stroke-width="0.8" stroke-linejoin="round" />
<ellipse cx="308" cy="526.3" rx="1.9" ry="3.4" fill="#fff" stroke="#444" stroke-width="0.8"/>
<polygon points="313,523.9 333.4,517.9 333.4,525.4 313,531.4" fill="#fff" stroke="#444" stroke-width="0.8" stroke-linejoin="round" />
<ellipse cx="308" cy="536.2" rx="1.9" ry="3.4" fill="#fff" stroke="#444" stroke-width="0.8"/>
<polygon points="313,534.1 333.4,528.1 333.4,535.6 313,541.6" fill="#fff" stroke="#444" stroke-width="0.8" stroke-linejoin="round" />
<polygon points="181.5,713.35 194.7,707.12 194.7,785.8 181.5,785.8" fill="#fff" stroke="#555" stroke-width="0.9" stroke-linejoin="round" />
<line x1="184" y1="701" x2="184" y2="785" stroke="#888" stroke-width="0.6" />
<polygon points="118.7,735 130.9,733 130.9,752.4 118.7,752.4" fill="#fff" stroke="#555" stroke-width="0.9" stroke-linejoin="round" />
<polygon points="135,735 181.5,745 181.5,755 135,745" fill="#fff" stroke="#555" stroke-width="0.8" stroke-linejoin="round" />
<polygon points="0,697.3 203,622.39 203,679.0 0,764.46" fill="#fff" stroke="#3a3a3a" stroke-width="1" stroke-linejoin="round" />
<clipPath id="ncclip"><polygon points="0,600 203,600 203,800 0,800"/></clipPath><g clip-path="url(#ncclip)">
<line x1="0" y1="700.4997" x2="203" y2="625.5927" stroke="#444" stroke-width="0.9" />
<line x1="24.0" y1="695.2" x2="94.6" y2="728.2" stroke="#444" stroke-width="6.6" stroke-linecap="round"/>
<line x1="24.0" y1="695.2" x2="94.6" y2="728.2" stroke="#fff" stroke-width="5.0" stroke-linecap="round"/>
<line x1="36.9" y1="690.5" x2="106.8" y2="723.1" stroke="#444" stroke-width="6.6" stroke-linecap="round"/>
<line x1="36.9" y1="690.5" x2="106.8" y2="723.1" stroke="#fff" stroke-width="5.0" stroke-linecap="round"/>
<line x1="49.8" y1="685.7" x2="118.9" y2="718.0" stroke="#444" stroke-width="6.6" stroke-linecap="round"/>
<line x1="49.8" y1="685.7" x2="118.9" y2="718.0" stroke="#fff" stroke-width="5.0" stroke-linecap="round"/>
<line x1="62.7" y1="681.0" x2="131.1" y2="712.9" stroke="#444" stroke-width="6.6" stroke-linecap="round"/>
<line x1="62.7" y1="681.0" x2="131.1" y2="712.9" stroke="#fff" stroke-width="5.0" stroke-linecap="round"/>
<line x1="75.6" y1="676.2" x2="143.2" y2="707.7" stroke="#444" stroke-width="6.6" stroke-linecap="round"/>
<line x1="75.6" y1="676.2" x2="143.2" y2="707.7" stroke="#fff" stroke-width="5.0" stroke-linecap="round"/>
<line x1="88.5" y1="671.4" x2="155.4" y2="702.6" stroke="#444" stroke-width="6.6" stroke-linecap="round"/>
<line x1="88.5" y1="671.4" x2="155.4" y2="702.6" stroke="#fff" stroke-width="5.0" stroke-linecap="round"/>
<line x1="101.4" y1="666.7" x2="167.5" y2="697.5" stroke="#444" stroke-width="6.6" stroke-linecap="round"/>
<line x1="101.4" y1="666.7" x2="167.5" y2="697.5" stroke="#fff" stroke-width="5.0" stroke-linecap="round"/>
<line x1="114.3" y1="661.9" x2="179.6" y2="692.4" stroke="#444" stroke-width="6.6" stroke-linecap="round"/>
<line x1="114.3" y1="661.9" x2="179.6" y2="692.4" stroke="#fff" stroke-width="5.0" stroke-linecap="round"/>
<line x1="127.2" y1="657.2" x2="191.8" y2="687.3" stroke="#444" stroke-width="6.6" stroke-linecap="round"/>
<line x1="127.2" y1="657.2" x2="191.8" y2="687.3" stroke="#fff" stroke-width="5.0" stroke-linecap="round"/>
<line x1="140.1" y1="652.4" x2="203.9" y2="682.2" stroke="#444" stroke-width="6.6" stroke-linecap="round"/>
<line x1="140.1" y1="652.4" x2="203.9" y2="682.2" stroke="#fff" stroke-width="5.0" stroke-linecap="round"/>
<line x1="153.0" y1="647.6" x2="216.1" y2="677.1" stroke="#444" stroke-width="6.6" stroke-linecap="round"/>
<line x1="153.0" y1="647.6" x2="216.1" y2="677.1" stroke="#fff" stroke-width="5.0" stroke-linecap="round"/>
<line x1="165.9" y1="642.9" x2="228.2" y2="672.0" stroke="#444" stroke-width="6.6" stroke-linecap="round"/>
<line x1="165.9" y1="642.9" x2="228.2" y2="672.0" stroke="#fff" stroke-width="5.0" stroke-linecap="round"/>
<line x1="178.8" y1="638.1" x2="240.4" y2="666.8" stroke="#444" stroke-width="6.6" stroke-linecap="round"/>
<line x1="178.8" y1="638.1" x2="240.4" y2="666.8" stroke="#fff" stroke-width="5.0" stroke-linecap="round"/>
<line x1="191.7" y1="633.4" x2="252.5" y2="661.7" stroke="#444" stroke-width="6.6" stroke-linecap="round"/>
<line x1="191.7" y1="633.4" x2="252.5" y2="661.7" stroke="#fff" stroke-width="5.0" stroke-linecap="round"/>
<line x1="204.6" y1="628.6" x2="264.7" y2="656.6" stroke="#444" stroke-width="6.6" stroke-linecap="round"/>
<line x1="204.6" y1="628.6" x2="264.7" y2="656.6" stroke="#fff" stroke-width="5.0" stroke-linecap="round"/>
<line x1="217.5" y1="623.8" x2="276.8" y2="651.5" stroke="#444" stroke-width="6.6" stroke-linecap="round"/>
<line x1="217.5" y1="623.8" x2="276.8" y2="651.5" stroke="#fff" stroke-width="5.0" stroke-linecap="round"/>
</g>
<polygon points="0,764.46 203,679.0 203,706.2 0,802.02" fill="#fff" stroke="#3a3a3a" stroke-width="1.1" stroke-linejoin="round" />
<line x1="0" y1="770.46" x2="203" y2="684.9970000000001" stroke="#aaa" stroke-width="0.6" />
<line x1="0" y1="773.46" x2="203" y2="687.9970000000001" stroke="#ccc" stroke-width="0.5" />
<polygon points="203,594 232.6,602 232.8,798.8 203,784" fill="#fff" stroke="none" stroke-width="1" stroke-linejoin="round" />
<polyline points="203,594 203,784 232.8,798.8 232.8,453.8" fill="none" stroke="#3a3a3a" stroke-width="1" stroke-linejoin="round" stroke-linecap="round" />
<polygon points="0,712 4.9,710.6 4.9,763.3 0,765" fill="#fff" stroke="#3a3a3a" stroke-width="0.9" stroke-linejoin="round" />
<polygon points="4.9,710.6 95.4,676.9 95.4,723.8 4.9,763.3" fill="#fff" stroke="#3a3a3a" stroke-width="0.9" stroke-linejoin="round" />
<polygon points="0,668 49.4,653 95.4,676.9 4.9,710.6" fill="#fff" stroke="#3a3a3a" stroke-width="0.9" stroke-linejoin="round" />
<line x1="0" y1="692.5" x2="69.1" y2="665.4" stroke="#666" stroke-width="0.7" />
<polyline points="472.9,346.7 472.9,420.1132" fill="none" stroke="#10224a" stroke-width="5.0" stroke-linejoin="round" stroke-linecap="round"/>
<polyline points="472.9,346.7 472.9,420.1132" fill="none" stroke="#4f7fc5" stroke-width="3.0" stroke-linejoin="round" stroke-linecap="round"/>
<polyline points="511.9,352.745 511.9,427.4452" fill="none" stroke="#10224a" stroke-width="5.0" stroke-linejoin="round" stroke-linecap="round"/>
<polyline points="511.9,352.745 511.9,427.4452" fill="none" stroke="#4f7fc5" stroke-width="3.0" stroke-linejoin="round" stroke-linecap="round"/>
<polyline points="553.7,359.224 553.7,435.3036" fill="none" stroke="#10224a" stroke-width="5.0" stroke-linejoin="round" stroke-linecap="round"/>
<polyline points="553.7,359.224 553.7,435.3036" fill="none" stroke="#4f7fc5" stroke-width="3.0" stroke-linejoin="round" stroke-linecap="round"/>
<polyline points="586.5,364.308 586.5,441.47" fill="none" stroke="#10224a" stroke-width="5.0" stroke-linejoin="round" stroke-linecap="round"/>
<polyline points="586.5,364.308 586.5,441.47" fill="none" stroke="#4f7fc5" stroke-width="3.0" stroke-linejoin="round" stroke-linecap="round"/>
<polyline points="472.9,420.1132 472.9,349 475,346.7 629,371 631,373.5 631,449.836" fill="none" stroke="#10224a" stroke-width="5.0" stroke-linejoin="round" stroke-linecap="round"/>
<polyline points="472.9,420.1132 472.9,349 475,346.7 629,371 631,373.5 631,449.836" fill="none" stroke="#4f7fc5" stroke-width="3.0" stroke-linejoin="round" stroke-linecap="round"/>
<polyline points="472.9,384 631,408.5" fill="none" stroke="#10224a" stroke-width="5.0" stroke-linejoin="round" stroke-linecap="round"/>
<polyline points="472.9,384 631,408.5" fill="none" stroke="#4f7fc5" stroke-width="3.0" stroke-linejoin="round" stroke-linecap="round"/>
<polyline points="432.3,418 452.2,383.5 455,382.5 459,383 462,386 462,416.7" fill="none" stroke="#10224a" stroke-width="5.0" stroke-linejoin="round" stroke-linecap="round"/>
<polyline points="432.3,418 452.2,383.5 455,382.5 459,383 462,386 462,416.7" fill="none" stroke="#4f7fc5" stroke-width="3.0" stroke-linejoin="round" stroke-linecap="round"/>
<polygon points="431,428 459,417.5 640,451.5 618,470" fill="#5d8dd0" stroke="#10224a" stroke-width="1.1" stroke-linejoin="round" />
<line x1="481.6" y1="421.8" x2="454.4" y2="433.2" stroke="#10224a" stroke-width="0.7" />
<line x1="504.2" y1="426.0" x2="477.8" y2="438.5" stroke="#10224a" stroke-width="0.7" />
<line x1="526.9" y1="430.2" x2="501.1" y2="443.8" stroke="#10224a" stroke-width="0.7" />
<line x1="549.5" y1="434.5" x2="524.5" y2="449.0" stroke="#10224a" stroke-width="0.7" />
<line x1="572.1" y1="438.8" x2="547.9" y2="454.2" stroke="#10224a" stroke-width="0.7" />
<line x1="594.8" y1="443.0" x2="571.2" y2="459.5" stroke="#10224a" stroke-width="0.7" />
<line x1="617.4" y1="447.2" x2="594.6" y2="464.8" stroke="#10224a" stroke-width="0.7" />
<polygon points="431,428 618,470 617,481 432,439.5" fill="#4f7fc5" stroke="#10224a" stroke-width="1.1" stroke-linejoin="round" />
<polyline points="476.5,362.254 476.5,441.2375" fill="none" stroke="#10224a" stroke-width="5.0" stroke-linejoin="round" stroke-linecap="round"/>
<polyline points="476.5,362.254 476.5,441.2375" fill="none" stroke="#4f7fc5" stroke-width="3.0" stroke-linejoin="round" stroke-linecap="round"/>
<polyline points="554.5,376.762 554.5,458.7875" fill="none" stroke="#10224a" stroke-width="5.0" stroke-linejoin="round" stroke-linecap="round"/>
<polyline points="554.5,376.762 554.5,458.7875" fill="none" stroke="#4f7fc5" stroke-width="3.0" stroke-linejoin="round" stroke-linecap="round"/>
<polyline points="437.5,432.4625 437.5,357.5 440,355 596.5,384.5 599,387 599,469.8" fill="none" stroke="#10224a" stroke-width="5.0" stroke-linejoin="round" stroke-linecap="round"/>
<polyline points="437.5,432.4625 437.5,357.5 440,355 596.5,384.5 599,387 599,469.8" fill="none" stroke="#4f7fc5" stroke-width="3.0" stroke-linejoin="round" stroke-linecap="round"/>
<polyline points="437.5,394.9 599,421.3" fill="none" stroke="#10224a" stroke-width="5.0" stroke-linejoin="round" stroke-linecap="round"/>
<polyline points="437.5,394.9 599,421.3" fill="none" stroke="#4f7fc5" stroke-width="3.0" stroke-linejoin="round" stroke-linecap="round"/>
<polygon points="426.61,446.94 441.37,453.4 441.37,458.9 426.61,452.44" fill="#5d8dd0" stroke="#10224a" stroke-width="0.8" stroke-linejoin="round" />
<polygon points="419.02,466.08 433.34,471.55 433.34,477.05 419.02,471.58" fill="#5d8dd0" stroke="#10224a" stroke-width="0.8" stroke-linejoin="round" />
<polygon points="411.43,485.22 425.31,489.7 425.31,495.2 411.43,490.72" fill="#5d8dd0" stroke="#10224a" stroke-width="0.8" stroke-linejoin="round" />
<polygon points="403.84,504.36 417.28,507.85 417.28,513.35 403.84,509.86" fill="#5d8dd0" stroke="#10224a" stroke-width="0.8" stroke-linejoin="round" />
<polygon points="423.25,436.5 430.75,436.5 396.25,523.5 388.75,523.5" fill="#4f7fc5" stroke="#10224a" stroke-width="0.9" stroke-linejoin="round" />
<line x1="428.55" y1="437.5" x2="394.05" y2="522.5" stroke="#3a64a8" stroke-width="0.7" />
<polygon points="445.75,443.5 453.25,443.5 416.75,526 409.25,526" fill="#4f7fc5" stroke="#10224a" stroke-width="0.9" stroke-linejoin="round" />
<line x1="451.05" y1="444.5" x2="414.55" y2="525" stroke="#3a64a8" stroke-width="0.7" />
<polygon points="389,521 419,524 419,529 389,526" fill="#4f7fc5" stroke="#10224a" stroke-width="0.8" stroke-linejoin="round" />
<polyline points="391,452 390.5,443.7 416,393 419,391.3 424,391.5 428,395 428,435" fill="none" stroke="#10224a" stroke-width="5.0" stroke-linejoin="round" stroke-linecap="round"/>
<polyline points="391,452 390.5,443.7 416,393 419,391.3 424,391.5 428,395 428,435" fill="none" stroke="#4f7fc5" stroke-width="3.0" stroke-linejoin="round" stroke-linecap="round"/>
<polyline points="391,452 411,473.4" fill="none" stroke="#10224a" stroke-width="5.0" stroke-linejoin="round" stroke-linecap="round"/>
<polyline points="391,452 411,473.4" fill="none" stroke="#4f7fc5" stroke-width="3.0" stroke-linejoin="round" stroke-linecap="round"/>
<polygon points="627.88,494.37 644.64,480.04 644.64,486.54 627.88,500.87" fill="#5d8dd0" stroke="#10224a" stroke-width="0.8" stroke-linejoin="round" />
<polygon points="641.56,523.25 658.68,508.48 658.68,514.98 641.56,529.75" fill="#5d8dd0" stroke="#10224a" stroke-width="0.8" stroke-linejoin="round" />
<polygon points="656.0,553.75 673.5,538.5 673.5,545.0 656.0,560.25" fill="#5d8dd0" stroke="#10224a" stroke-width="0.8" stroke-linejoin="round" />
<polygon points="670.44,584.25 688.32,568.52 688.32,575.02 670.44,590.75" fill="#5d8dd0" stroke="#10224a" stroke-width="0.8" stroke-linejoin="round" />
<polygon points="684.12,613.13 702.36,596.96 702.36,603.46 684.12,619.63" fill="#5d8dd0" stroke="#10224a" stroke-width="0.8" stroke-linejoin="round" />
<polygon points="609.0,473.5 618.0,473.5 694.0,634 685.0,634" fill="#4f7fc5" stroke="#10224a" stroke-width="0.9" stroke-linejoin="round" />
<line x1="615.8" y1="474.5" x2="691.8" y2="633" stroke="#3a64a8" stroke-width="0.7" />
<polygon points="634.5,459.5 643.5,459.5 721.5,617.5 712.5,617.5" fill="#4f7fc5" stroke="#10224a" stroke-width="0.9" stroke-linejoin="round" />
<line x1="641.3" y1="460.5" x2="719.3" y2="616.5" stroke="#3a64a8" stroke-width="0.7" />
<polygon points="673,630 698,633 699,639 673,637" fill="#4f7fc5" stroke="#10224a" stroke-width="0.8" stroke-linejoin="round" />
<polygon points="704,614 723,616.5 724,622 704,620" fill="#4f7fc5" stroke="#10224a" stroke-width="0.8" stroke-linejoin="round" />
<polyline points="610.4,477.6 610.4,432.7 613,429.8 617,429.8 620,432 639,459" fill="none" stroke="#10224a" stroke-width="5.0" stroke-linejoin="round" stroke-linecap="round"/>
<polyline points="610.4,477.6 610.4,432.7 613,429.8 617,429.8 620,432 639,459" fill="none" stroke="#4f7fc5" stroke-width="3.0" stroke-linejoin="round" stroke-linecap="round"/>
<polyline points="642,459 642,420 644.5,417.3 648,417.3 651,420 694,497 694,503 690,507 671.6,516.3" fill="none" stroke="#10224a" stroke-width="5.0" stroke-linejoin="round" stroke-linecap="round"/>
<polyline points="642,459 642,420 644.5,417.3 648,417.3 651,420 694,497 694,503 690,507 671.6,516.3" fill="none" stroke="#4f7fc5" stroke-width="3.0" stroke-linejoin="round" stroke-linecap="round"/>
<polyline points="371.8,624 371.8,528 375,524.5 379,524.5 419.5,536.5 423.5,540.5 423.5,650" fill="none" stroke="#4d2c10" stroke-width="4.7" stroke-linejoin="round" stroke-linecap="round"/>
<polyline points="371.8,624 371.8,528 375,524.5 379,524.5 419.5,536.5 423.5,540.5 423.5,650" fill="none" stroke="#dc9550" stroke-width="3.0" stroke-linejoin="round" stroke-linecap="round"/>
<polyline points="371.8,571.8 423.5,585" fill="none" stroke="#4d2c10" stroke-width="4.7" stroke-linejoin="round" stroke-linecap="round"/>
<polyline points="371.8,571.8 423.5,585" fill="none" stroke="#dc9550" stroke-width="3.0" stroke-linejoin="round" stroke-linecap="round"/>
<polyline points="379,612 379,562 382,557.5 386,556 423.5,543" fill="none" stroke="#4d2c10" stroke-width="4.7" stroke-linejoin="round" stroke-linecap="round"/>
<polyline points="379,612 379,562 382,557.5 386,556 423.5,543" fill="none" stroke="#dc9550" stroke-width="3.0" stroke-linejoin="round" stroke-linecap="round"/>
<polyline points="379,598 423.5,583" fill="none" stroke="#4d2c10" stroke-width="4.7" stroke-linejoin="round" stroke-linecap="round"/>
<polyline points="379,598 423.5,583" fill="none" stroke="#dc9550" stroke-width="3.0" stroke-linejoin="round" stroke-linecap="round"/>
<polyline points="324.7,655 324.7,702" fill="none" stroke="#4d2c10" stroke-width="4.7" stroke-linejoin="round" stroke-linecap="round"/>
<polyline points="324.7,655 324.7,702" fill="none" stroke="#dc9550" stroke-width="3.0" stroke-linejoin="round" stroke-linecap="round"/>
<polyline points="326,662 374,703" fill="none" stroke="#4d2c10" stroke-width="4.7" stroke-linejoin="round" stroke-linecap="round"/>
<polyline points="326,662 374,703" fill="none" stroke="#dc9550" stroke-width="3.0" stroke-linejoin="round" stroke-linecap="round"/>
<polyline points="380,682 422,725" fill="none" stroke="#4d2c10" stroke-width="4.7" stroke-linejoin="round" stroke-linecap="round"/>
<polyline points="380,682 422,725" fill="none" stroke="#dc9550" stroke-width="3.0" stroke-linejoin="round" stroke-linecap="round"/>
<polyline points="396,651 396,742" fill="none" stroke="#4d2c10" stroke-width="4.7" stroke-linejoin="round" stroke-linecap="round"/>
<polyline points="396,651 396,742" fill="none" stroke="#dc9550" stroke-width="3.0" stroke-linejoin="round" stroke-linecap="round"/>
<polyline points="422.6,648 422.6,750.6" fill="none" stroke="#4d2c10" stroke-width="4.7" stroke-linejoin="round" stroke-linecap="round"/>
<polyline points="422.6,648 422.6,750.6" fill="none" stroke="#dc9550" stroke-width="3.0" stroke-linejoin="round" stroke-linecap="round"/>
<polyline points="378.5,668 378.5,764" fill="none" stroke="#4d2c10" stroke-width="4.7" stroke-linejoin="round" stroke-linecap="round"/>
<polyline points="378.5,668 378.5,764" fill="none" stroke="#dc9550" stroke-width="3.0" stroke-linejoin="round" stroke-linecap="round"/>
<polyline points="291,766 345,790" fill="none" stroke="#4d2c10" stroke-width="4.7" stroke-linejoin="round" stroke-linecap="round"/>
<polyline points="291,766 345,790" fill="none" stroke="#dc9550" stroke-width="3.0" stroke-linejoin="round" stroke-linecap="round"/>
<polyline points="345,787 422.6,748" fill="none" stroke="#4d2c10" stroke-width="4.7" stroke-linejoin="round" stroke-linecap="round"/>
<polyline points="345,787 422.6,748" fill="none" stroke="#dc9550" stroke-width="3.0" stroke-linejoin="round" stroke-linecap="round"/>
<polyline points="306,731 306,760" fill="none" stroke="#4d2c10" stroke-width="4.7" stroke-linejoin="round" stroke-linecap="round"/>
<polyline points="306,731 306,760" fill="none" stroke="#dc9550" stroke-width="3.0" stroke-linejoin="round" stroke-linecap="round"/>
<polyline points="291,766 306,760 376.7,744" fill="none" stroke="#4d2c10" stroke-width="4.7" stroke-linejoin="round" stroke-linecap="round"/>
<polyline points="291,766 306,760 376.7,744" fill="none" stroke="#dc9550" stroke-width="3.0" stroke-linejoin="round" stroke-linecap="round"/>
<polygon points="323.5,646.7 369.4,622.6 422.6,640.7 377.9,662.4" fill="#e2a262" stroke="#4d2c10" stroke-width="1" stroke-linejoin="round" />
<line x1="337" y1="639.6" x2="392" y2="655.5" stroke="#4d2c10" stroke-width="0.6" />
<line x1="352" y1="631.6" x2="407" y2="648" stroke="#4d2c10" stroke-width="0.6" />
<polygon points="323.5,646.7 377.9,662.4 377.9,669.5 323.5,653.8" fill="#dc9550" stroke="#4d2c10" stroke-width="1" stroke-linejoin="round" />
<polygon points="377.9,662.4 422.6,640.7 422.6,647.8 377.9,669.5" fill="#dc9550" stroke="#4d2c10" stroke-width="1" stroke-linejoin="round" />
<polyline points="345,712 345,797" fill="none" stroke="#4d2c10" stroke-width="4.7" stroke-linejoin="round" stroke-linecap="round"/>
<polyline points="345,712 345,797" fill="none" stroke="#dc9550" stroke-width="3.0" stroke-linejoin="round" stroke-linecap="round"/>
<polygon points="306.6,693.8 317.5,684.2 374.3,704.7 363.4,712" fill="#e2a262" stroke="#4d2c10" stroke-width="1" stroke-linejoin="round" />
<polygon points="306.6,693.8 363.4,712 363.4,718 306.6,699.8" fill="#dc9550" stroke="#4d2c10" stroke-width="1" stroke-linejoin="round" />
<polyline points="308,700 308,736" fill="none" stroke="#4d2c10" stroke-width="4.7" stroke-linejoin="round" stroke-linecap="round"/>
<polyline points="308,700 308,736" fill="none" stroke="#dc9550" stroke-width="3.0" stroke-linejoin="round" stroke-linecap="round"/>
<polyline points="363.4,718 363.4,755" fill="none" stroke="#4d2c10" stroke-width="4.7" stroke-linejoin="round" stroke-linecap="round"/>
<polyline points="363.4,718 363.4,755" fill="none" stroke="#dc9550" stroke-width="3.0" stroke-linejoin="round" stroke-linecap="round"/>
<polygon points="289.7,737.4 304.2,727.7 359.8,753 345.3,759.1" fill="#e2a262" stroke="#4d2c10" stroke-width="1" stroke-linejoin="round" />
<polygon points="289.7,737.4 345.3,759.1 345.3,765.5 289.7,743.8" fill="#dc9550" stroke="#4d2c10" stroke-width="1" stroke-linejoin="round" />
<polyline points="291,744 291,773.6" fill="none" stroke="#4d2c10" stroke-width="4.7" stroke-linejoin="round" stroke-linecap="round"/>
<polyline points="291,744 291,773.6" fill="none" stroke="#dc9550" stroke-width="3.0" stroke-linejoin="round" stroke-linecap="round"/>
<polyline points="345.3,765 345.3,797.8" fill="none" stroke="#4d2c10" stroke-width="4.7" stroke-linejoin="round" stroke-linecap="round"/>
<polyline points="345.3,765 345.3,797.8" fill="none" stroke="#dc9550" stroke-width="3.0" stroke-linejoin="round" stroke-linecap="round"/>
<polygon points="287.5,771 294,771 294,775.5 287.5,775.5" fill="#dc9550" stroke="#4d2c10" stroke-width="0.8" stroke-linejoin="round" />
<polygon points="342,795 349,795 349,800 342,800" fill="#dc9550" stroke="#4d2c10" stroke-width="0.8" stroke-linejoin="round" />
<polygon points="419.5,748 426,748 426,752.5 419.5,752.5" fill="#dc9550" stroke="#4d2c10" stroke-width="0.8" stroke-linejoin="round" />
<polyline points="289.7,737 289.7,646.7 314.5,587 317.5,584 321.5,584.5 324.7,588 324.7,647" fill="none" stroke="#4d2c10" stroke-width="4.7" stroke-linejoin="round" stroke-linecap="round"/>
<polyline points="289.7,737 289.7,646.7 314.5,587 317.5,584 321.5,584.5 324.7,588 324.7,647" fill="none" stroke="#dc9550" stroke-width="3.0" stroke-linejoin="round" stroke-linecap="round"/>
<polyline points="345.3,760 345.3,672 373,609 375.5,606 378.5,607 379,610 379,668" fill="none" stroke="#4d2c10" stroke-width="4.7" stroke-linejoin="round" stroke-linecap="round"/>
<polyline points="345.3,760 345.3,672 373,609 375.5,606 378.5,607 379,610 379,668" fill="none" stroke="#dc9550" stroke-width="3.0" stroke-linejoin="round" stroke-linecap="round"/>
<polyline points="43.8,304.3 43.8,290.4 45.5,286.5 47.9,285.6 50.5,286.5 52,290.4 70.6,423" fill="none" stroke="#33400f" stroke-width="3.9" stroke-linejoin="round" stroke-linecap="round"/>
<polyline points="43.8,304.3 43.8,290.4 45.5,286.5 47.9,285.6 50.5,286.5 52,290.4 70.6,423" fill="none" stroke="#82a03e" stroke-width="2.4" stroke-linejoin="round" stroke-linecap="round"/>
<polyline points="72,299.4 73.9,284.8 76,282 78.8,281.5 81.5,282 83.7,284.8 110.5,416.5 109,420 100,419.7" fill="none" stroke="#33400f" stroke-width="3.9" stroke-linejoin="round" stroke-linecap="round"/>
<polyline points="72,299.4 73.9,284.8 76,282 78.8,281.5 81.5,282 83.7,284.8 110.5,416.5 109,420 100,419.7" fill="none" stroke="#82a03e" stroke-width="2.4" stroke-linejoin="round" stroke-linecap="round"/>
<polyline points="48.69063670411986,312.6 74.33129381771829,309.6" fill="none" stroke="#33400f" stroke-width="4.9" stroke-linejoin="round" stroke-linecap="round"/>
<polyline points="48.69063670411986,312.6 74.33129381771829,309.6" fill="none" stroke="#82a03e" stroke-width="3.4" stroke-linejoin="round" stroke-linecap="round"/>
<polyline points="53.14756554307117,333 78.9859783301466,330" fill="none" stroke="#33400f" stroke-width="4.9" stroke-linejoin="round" stroke-linecap="round"/>
<polyline points="53.14756554307117,333 78.9859783301466,330" fill="none" stroke="#82a03e" stroke-width="3.4" stroke-linejoin="round" stroke-linecap="round"/>
<polyline points="57.38601747815231,352.4 83.41249203314212,349.4" fill="none" stroke="#33400f" stroke-width="4.9" stroke-linejoin="round" stroke-linecap="round"/>
<polyline points="57.38601747815231,352.4 83.41249203314212,349.4" fill="none" stroke="#82a03e" stroke-width="3.4" stroke-linejoin="round" stroke-linecap="round"/>
<polyline points="62.36729088639201,375.2 88.61478648820905,372.2" fill="none" stroke="#33400f" stroke-width="4.9" stroke-linejoin="round" stroke-linecap="round"/>
<polyline points="62.36729088639201,375.2 88.61478648820905,372.2" fill="none" stroke="#82a03e" stroke-width="3.4" stroke-linejoin="round" stroke-linecap="round"/>
<polyline points="67.15193508114858,397.1 93.6117272147865,394.1" fill="none" stroke="#33400f" stroke-width="4.9" stroke-linejoin="round" stroke-linecap="round"/>
<polyline points="67.15193508114858,397.1 93.6117272147865,394.1" fill="none" stroke="#82a03e" stroke-width="3.4" stroke-linejoin="round" stroke-linecap="round"/>
<polyline points="71.93657927590513,419 98.60866794136392,416" fill="none" stroke="#33400f" stroke-width="4.9" stroke-linejoin="round" stroke-linecap="round"/>
<polyline points="71.93657927590513,419 98.60866794136392,416" fill="none" stroke="#82a03e" stroke-width="3.4" stroke-linejoin="round" stroke-linecap="round"/>
<polyline points="76.93970037453184,441.9 103.83377947737412,438.9" fill="none" stroke="#33400f" stroke-width="4.9" stroke-linejoin="round" stroke-linecap="round"/>
<polyline points="76.93970037453184,441.9 103.83377947737412,438.9" fill="none" stroke="#82a03e" stroke-width="3.4" stroke-linejoin="round" stroke-linecap="round"/>
<polygon points="40,299 46.5,298.5 81.5,460.5 75,461" fill="#82a03e" stroke="#33400f" stroke-width="0.9" stroke-linejoin="round" />
<polygon points="67,296 73.5,295.5 108,454 101.5,454.5" fill="#82a03e" stroke="#33400f" stroke-width="0.9" stroke-linejoin="round" />
<line x1="44" y1="300" x2="78.5" y2="460" stroke="#a6c060" stroke-width="1.2" />
<line x1="71" y1="297" x2="105" y2="454" stroke="#a6c060" stroke-width="1.2" />
<polygon points="73,459 82,459 82.5,463 73.5,463" fill="#82a03e" stroke="#33400f" stroke-width="0.8" stroke-linejoin="round" />
<polygon points="100,452 109,452 109.5,456 100.5,456" fill="#82a03e" stroke="#33400f" stroke-width="0.8" stroke-linejoin="round" />
<polygon points="121.6,285.8 366.5,285.8 366.5,342.2 169.3,342.2 124.9,387.8 138.9,342.2 121.6,342.2" fill="#fefde5" stroke="#3479b5" stroke-width="1.2" stroke-linejoin="miter"/>
<polygon points="511.7,194.2 772.4,194.2 772.4,251.1 663.4,251.1 616.7,301.7 632.2,251.1 511.7,251.1" fill="#fefde5" stroke="#3479b5" stroke-width="1.2" stroke-linejoin="miter"/>
<polygon points="439.8,744.7 471.2,744.7 455.5,694.8 504.6,744.7 727.1,744.7 727.1,802 439.8,802" fill="#fefde5" stroke="#3479b5" stroke-width="1.2" stroke-linejoin="miter"/>
<text x="126.5" y="309" font-size="11.4" fill="#2067ad" font-weight="bold" letter-spacing="1.6" font-family='"Liberation Sans", sans-serif' >【移动用梯子】</text>
<text x="133.5" y="329.7" font-size="11.2" fill="#2067ad" font-weight="bold" letter-spacing="1.6" font-family='"Liberation Sans", sans-serif' >工厂及仓库内的高处安全上下必备品</text>
<text x="511.5" y="219.5" font-size="10.2" fill="#2067ad" font-weight="bold" letter-spacing="1.95" font-family='"Liberation Sans", sans-serif' >【跨产线通道】 为车间产线间提供便捷的通道，</text>
<text x="519.5" y="237.2" font-size="10.2" fill="#2067ad" font-weight="bold" letter-spacing="1.95" font-family='"Liberation Sans", sans-serif' >根据具现场实际空间制作最适宜的尺寸和形状。</text>
<text x="441.5" y="769.3" font-size="11.2" fill="#2067ad" font-weight="bold" letter-spacing="1.2" font-family='"Liberation Sans", sans-serif' >【检修作业台】</text>
<text x="540.5" y="769.3" font-size="11.0" fill="#2067ad" font-weight="bold" letter-spacing="1.45" font-family='"Liberation Sans", sans-serif' >根据各工厂机械设备操作及检修</text>
<text x="540.5" y="787.8" font-size="11.0" fill="#2067ad" font-weight="bold" letter-spacing="1.45" font-family='"Liberation Sans", sans-serif' >作业时的高度，尺寸或需变更.</text>
<line x1="434.6" y1="1020" x2="434.6" y2="1086.5" stroke="#555" stroke-width="0.9" />
<line x1="616.5" y1="1059" x2="616.5" y2="1115" stroke="#555" stroke-width="0.9" />
<line x1="219" y1="1043" x2="219" y2="1058" stroke="#777" stroke-width="0.8" />
<line x1="6.8" y1="1047" x2="6.8" y2="1108" stroke="#4a4a4a" stroke-width="0.9" />
<polygon points="16,1049 31.9,1052.5 31.9,1086.8 16,1083.3" fill="#fff" stroke="#4a4a4a" stroke-width="0.9" stroke-linejoin="round" />
<polygon points="33,1052.5 51.3,1056.53 51.3,1091.83 33,1087.8" fill="#fff" stroke="#4a4a4a" stroke-width="0.9" stroke-linejoin="round" />
<polygon points="52,1056 69.5,1059.85 69.5,1095.85 52,1092" fill="#fff" stroke="#4a4a4a" stroke-width="0.9" stroke-linejoin="round" />
<polygon points="77.5,1060.5 103.7,1066.26 103.7,1130.06 77.5,1124.3" fill="#fff" stroke="#4a4a4a" stroke-width="0.9" stroke-linejoin="round" />
<polygon points="111.6,1066 131,1070.27 131,1110.27 111.6,1106" fill="#fff" stroke="#4a4a4a" stroke-width="0.9" stroke-linejoin="round" />
<polygon points="145.8,1073 159.5,1076.01 159.5,1145.51 145.8,1142.5" fill="#fff" stroke="#4a4a4a" stroke-width="0.9" stroke-linejoin="round" />
<path d="M168.2,1200 L168.2,1072.8 C168.2,1063 174,1058 183,1057.5 L211.5,1057.5 L430,1085.6 L735.4,1136.6 C741,1138 743.6,1141 743.6,1147 L743.6,1200 Z" fill="#fff" stroke="#4a4a4a" stroke-width="1"/>
<path d="M191,1200 L191,1077.3 C191,1066 199,1059 211.5,1057.5" fill="none" stroke="#4a4a4a" stroke-width="1"/>
<polygon points="201.3,1083 223.4,1087.2 223.4,1125.8 201.3,1121.6" fill="#fff" stroke="#4a4a4a" stroke-width="0.9" stroke-linejoin="round" />
<polygon points="225.2,1088.3 248,1092.63 248,1130.63 225.2,1126.3" fill="#fff" stroke="#4a4a4a" stroke-width="0.9" stroke-linejoin="round" />
<polygon points="254.4,1093.7 289.4,1100.35 289.4,1171.85 254.4,1165.2" fill="#fff" stroke="#4a4a4a" stroke-width="0.9" stroke-linejoin="round" />
<polygon points="297.6,1102 322.7,1106.77 322.7,1147.07 297.6,1142.3" fill="#fff" stroke="#4a4a4a" stroke-width="0.9" stroke-linejoin="round" />
<polygon points="324,1106.5 350.5,1111.54 350.5,1152.54 324,1147.5" fill="#fff" stroke="#4a4a4a" stroke-width="0.9" stroke-linejoin="round" />
<polygon points="351.3,1112 378,1117.07 378,1158.07 351.3,1153" fill="#fff" stroke="#4a4a4a" stroke-width="0.9" stroke-linejoin="round" />
<polygon points="385.5,1118 427.3,1125.94 427.3,1203.94 385.5,1196" fill="#fff" stroke="#4a4a4a" stroke-width="0.9" stroke-linejoin="round" />
<polygon points="434.6,1127.5 464,1133.09 464,1176.09 434.6,1170.5" fill="#fff" stroke="#4a4a4a" stroke-width="0.9" stroke-linejoin="round" />
<polygon points="465.5,1133.4 494.7,1138.95 494.7,1183.95 465.5,1178.4" fill="#fff" stroke="#4a4a4a" stroke-width="0.9" stroke-linejoin="round" />
<polygon points="497.5,1140 528,1145.8 528,1190.8 497.5,1185" fill="#fff" stroke="#4a4a4a" stroke-width="0.9" stroke-linejoin="round" />
<polygon points="543,1148.5 590.4,1157.51 590.4,1217.51 543,1208.5" fill="#fff" stroke="#4a4a4a" stroke-width="0.9" stroke-linejoin="round" />
<polygon points="602.3,1160 637.4,1166.67 637.4,1216.67 602.3,1210" fill="#fff" stroke="#4a4a4a" stroke-width="0.9" stroke-linejoin="round" />
<polygon points="664.7,1171 689.8,1175.77 689.8,1215.77 664.7,1211" fill="#fff" stroke="#4a4a4a" stroke-width="0.9" stroke-linejoin="round" />
<path d="M706.5,1200 L706.5,1172 C707,1163 714,1158 722,1156.5 L727.5,1155.5 L727.5,1200" fill="#fff" stroke="#4a4a4a" stroke-width="0.9"/>
<path d="M729.5,1200 L729.5,1156 C729.5,1150 733,1146 737,1145.5 L740.5,1145 L740.5,1200" fill="#fff" stroke="#4a4a4a" stroke-width="0.9"/>
<path d="M0,1200 L0,1114 C10,1113 22,1114 30,1116 L66,1123 L180,1152.5 L340.5,1190.5 L345.6,1188 L396,1200 Z" fill="#fff" stroke="none"/>
<path d="M0,1114 C10,1113 22,1114 30,1116 L66,1123 L180,1152.5 L340.5,1190.5 L345.6,1188 L396,1200" fill="none" stroke="#333" stroke-width="1.3"/>
<line x1="322.8" y1="1200" x2="340.5" y2="1191" stroke="#4a4a4a" stroke-width="0.9" />
<polygon points="25,1138 29.6,1134.5 66,1123.2 159.5,1144.8 163,1147 161.8,1149.4 123,1158.5 25,1141.4" fill="#fff" stroke="#4a4a4a" stroke-width="0.9" stroke-linejoin="round" />
<line x1="29.6" y1="1138.5" x2="123" y2="1155" stroke="#777" stroke-width="0.7" />
<line x1="0" y1="1163" x2="54.7" y2="1174.4" stroke="#4a4a4a" stroke-width="0.9" />
<line x1="0" y1="1167" x2="54.7" y2="1178.4" stroke="#4a4a4a" stroke-width="0.7" />
<polygon points="8,1173.3 44.4,1180.58 44.4,1210.58 8,1203.3" fill="#fff" stroke="#4a4a4a" stroke-width="0.9" stroke-linejoin="round" />
<polyline points="98,1186 98,1131 100,1127 104,1125 115,1121 119,1121.5 121,1125 121,1154" fill="none" stroke="#3a5a22" stroke-width="5.2" stroke-linejoin="round" stroke-linecap="round"/>
<polyline points="98,1186 98,1131 100,1127 104,1125 115,1121 119,1121.5 121,1125 121,1154" fill="none" stroke="#8cb563" stroke-width="3.4" stroke-linejoin="round" stroke-linecap="round"/>
<polyline points="121,1154 98,1176.7" fill="none" stroke="#3a5a22" stroke-width="5.2" stroke-linejoin="round" stroke-linecap="round"/>
<polyline points="121,1154 98,1176.7" fill="none" stroke="#8cb563" stroke-width="3.4" stroke-linejoin="round" stroke-linecap="round"/>
<polygon points="53,1190 152,1197 152,1200 53,1200" fill="#7fab55" stroke="#3a5a22" stroke-width="0.9" stroke-linejoin="round" />
<polyline points="51.5,1200 51.5,1151 54,1144 59,1141 92,1128 96,1128 98,1131" fill="none" stroke="#3a5a22" stroke-width="5.2" stroke-linejoin="round" stroke-linecap="round"/>
<polyline points="51.5,1200 51.5,1151 54,1144 59,1141 92,1128 96,1128 98,1131" fill="none" stroke="#8cb563" stroke-width="3.4" stroke-linejoin="round" stroke-linecap="round"/>
<polyline points="85.4,1154 85.4,1200" fill="none" stroke="#3a5a22" stroke-width="5.2" stroke-linejoin="round" stroke-linecap="round"/>
<polyline points="85.4,1154 85.4,1200" fill="none" stroke="#8cb563" stroke-width="3.4" stroke-linejoin="round" stroke-linecap="round"/>
<polyline points="51.5,1147 190,1176.5 195,1178.5 198.5,1184 198.5,1200" fill="none" stroke="#3a5a22" stroke-width="5.2" stroke-linejoin="round" stroke-linecap="round"/>
<polyline points="51.5,1147 190,1176.5 195,1178.5 198.5,1184 198.5,1200" fill="none" stroke="#8cb563" stroke-width="3.4" stroke-linejoin="round" stroke-linecap="round"/>
<polyline points="51.5,1163 98,1166" fill="none" stroke="#3a5a22" stroke-width="5.2" stroke-linejoin="round" stroke-linecap="round"/>
<polyline points="51.5,1163 98,1166" fill="none" stroke="#8cb563" stroke-width="3.4" stroke-linejoin="round" stroke-linecap="round"/>
<polyline points="51.5,1176 150,1197" fill="none" stroke="#3a5a22" stroke-width="5.2" stroke-linejoin="round" stroke-linecap="round"/>
<polyline points="51.5,1176 150,1197" fill="none" stroke="#8cb563" stroke-width="3.4" stroke-linejoin="round" stroke-linecap="round"/>
<polyline points="152.7,1172 152.7,1200" fill="none" stroke="#3a5a22" stroke-width="5.2" stroke-linejoin="round" stroke-linecap="round"/>
<polyline points="152.7,1172 152.7,1200" fill="none" stroke="#8cb563" stroke-width="3.4" stroke-linejoin="round" stroke-linecap="round"/>
<polyline points="172,1200 175,1194 181,1192.5 200,1196" fill="none" stroke="#3a5a22" stroke-width="5.0" stroke-linejoin="round" stroke-linecap="round"/>
<polyline points="172,1200 175,1194 181,1192.5 200,1196" fill="none" stroke="#8cb563" stroke-width="3.2" stroke-linejoin="round" stroke-linecap="round"/>
<polyline points="432,1200 436,1196 442,1194.5 452,1196" fill="none" stroke="#3a5a22" stroke-width="5.0" stroke-linejoin="round" stroke-linecap="round"/>
<polyline points="432,1200 436,1196 442,1194.5 452,1196" fill="none" stroke="#8cb563" stroke-width="3.2" stroke-linejoin="round" stroke-linecap="round"/>
<polygon points="33.9,993.6 314.7,993.6 314.7,1057.3 85.8,1057.3 101,1105.9 56.1,1057.3 33.9,1057.3" fill="#fefde5" stroke="#3479b5" stroke-width="1.2" stroke-linejoin="miter"/>
<text x="31.5" y="1013.6" font-size="11.3" fill="#2067ad" font-weight="bold" letter-spacing="1.1" font-family='"Liberation Sans", sans-serif' >【检修作业台】</text>
<text x="125" y="1013.6" font-size="11.3" fill="#2067ad" font-weight="bold" letter-spacing="0.9" font-family='"Liberation Sans", sans-serif' >用于车体及车辆顶部空调机的检修。</text>
<text x="39" y="1030.8" font-size="11.3" fill="#2067ad" font-weight="bold" letter-spacing="0.75" font-family='"Liberation Sans", sans-serif' >根据作业环境增设谨防跌落的安全扶手和确保主体</text>
<text x="39" y="1044.8" font-size="11.3" fill="#2067ad" font-weight="bold" letter-spacing="0.75" font-family='"Liberation Sans", sans-serif' >稳固的补充支撑脚。</text>
<circle cx="392.5" cy="2.5" r="15.8" fill="#fff" stroke="#222" stroke-width="1.5"/>
<path d="M386.9,0 L398.6,0 L392.7,12.3 Z" fill="#2a2a2a"/>
<rect x="27" y="63" width="191" height="190" fill="#0e6db0"/>
<text x="44.5" y="104.5" font-size="28.5" fill="#fff" font-weight="300" letter-spacing="0" font-family='"Liberation Sans", sans-serif' >工厂</text>
<path d="M57.2,135.6 L88.9,117.5 L88.9,133.7 L116.8,117.5 L116.8,133.7 L145,117.2 L145,136.6 L188,136.6 L188,168.5 L57.2,168.5 Z" fill="#fff"/>
<rect x="66.7" y="142.2" width="9.899999999999991" height="2.6" fill="#0e6db0"/>
<rect x="79.4" y="142.2" width="9.5" height="2.6" fill="#0e6db0"/>
<rect x="92.1" y="142.2" width="10.100000000000009" height="2.6" fill="#0e6db0"/>
<rect x="146.8" y="142.2" width="10.099999999999994" height="2.6" fill="#0e6db0"/>
<rect x="159.5" y="142.2" width="9.699999999999989" height="2.6" fill="#0e6db0"/>
<rect x="172" y="142.2" width="10.300000000000011" height="2.6" fill="#0e6db0"/>
<text x="88" y="238" font-size="14" fill="#fff" font-weight="bold" letter-spacing="0" font-family='"Liberation Sans", sans-serif' >Case Study</text>
<path d="M187.2,183 L192.6,183 L192.6,239 L187.4,239 L187.4,198.7 L172.5,198.7 L172.5,194.2 C180.5,194 185.6,190 187.2,183 Z" fill="#fff"/>
<text x="240" y="81.5" font-size="17" fill="#1a1a1a" font-weight="normal" letter-spacing="2.4" font-family='"Liberation Sans", sans-serif' stroke="#1a1a1a" stroke-width="0.35">实现可跨越车间通道和复杂生产线</text>
<text x="240" y="100.2" font-size="17" fill="#1a1a1a" font-weight="normal" letter-spacing="1.4" font-family='"Liberation Sans", sans-serif' stroke="#1a1a1a" stroke-width="0.35">以达到安全高效的移动和设备检修目的</text>
<text x="268" y="887.5" font-size="13" fill="#1a1a1a" font-weight="normal" letter-spacing="0.85" font-family='"Liberation Sans", sans-serif' stroke="#1a1a1a" stroke-width="0.3">为了铁道车辆的安全检修和车辆周边各种机材</text>
<text x="268" y="904" font-size="13" fill="#1a1a1a" font-weight="normal" letter-spacing="0.85" font-family='"Liberation Sans", sans-serif' stroke="#1a1a1a" stroke-width="0.3">以及突发逃难情况等制作的多用途机材产品。</text>
<rect x="570" y="873.3" width="186.7" height="185.5" fill="#0e6db0"/>
<text x="588" y="912.8" font-size="27" fill="#fff" font-weight="300" letter-spacing="3" font-family='"Liberation Sans", sans-serif' >铁道</text>
<path d="M649.8,955.7 C657,951 664,946 673.8,945.9 L741.7,945.9 L741.7,950.7 L676,950.7 C669,950.7 664,953 658.6,955.7 Z" fill="#fff"/>
<path d="M585.6,974.2 L585.6,968 C586.5,965.5 588.5,964.5 591,964 L647.7,955 L741.7,955 L741.7,974.2 Z" fill="#fff"/>
<rect x="650" y="956.3" width="91.7" height="1.1" fill="#0e6db0"/>
<path d="M585.6,975.7 L741.7,975.7 L741.7,980 L583.4,980 Z" fill="#fff"/>
<text x="623.3" y="1044.7" font-size="14" fill="#fff" font-weight="bold" letter-spacing="0" font-family='"Liberation Sans", sans-serif' >Case Study</text>
<path d="M712.4,1011 C712.4,1000 718.8,992.4 727.4,992.4 C736.6,992.4 742,999 742,1007.5 C742,1015.8 736.3,1020.6 729,1025.4 C720,1031.4 712.9,1035.6 711.3,1042.8 L744.7,1042.8" fill="none" stroke="#fff" stroke-width="4.4" stroke-linejoin="miter"/>
</svg>
</body></html>
